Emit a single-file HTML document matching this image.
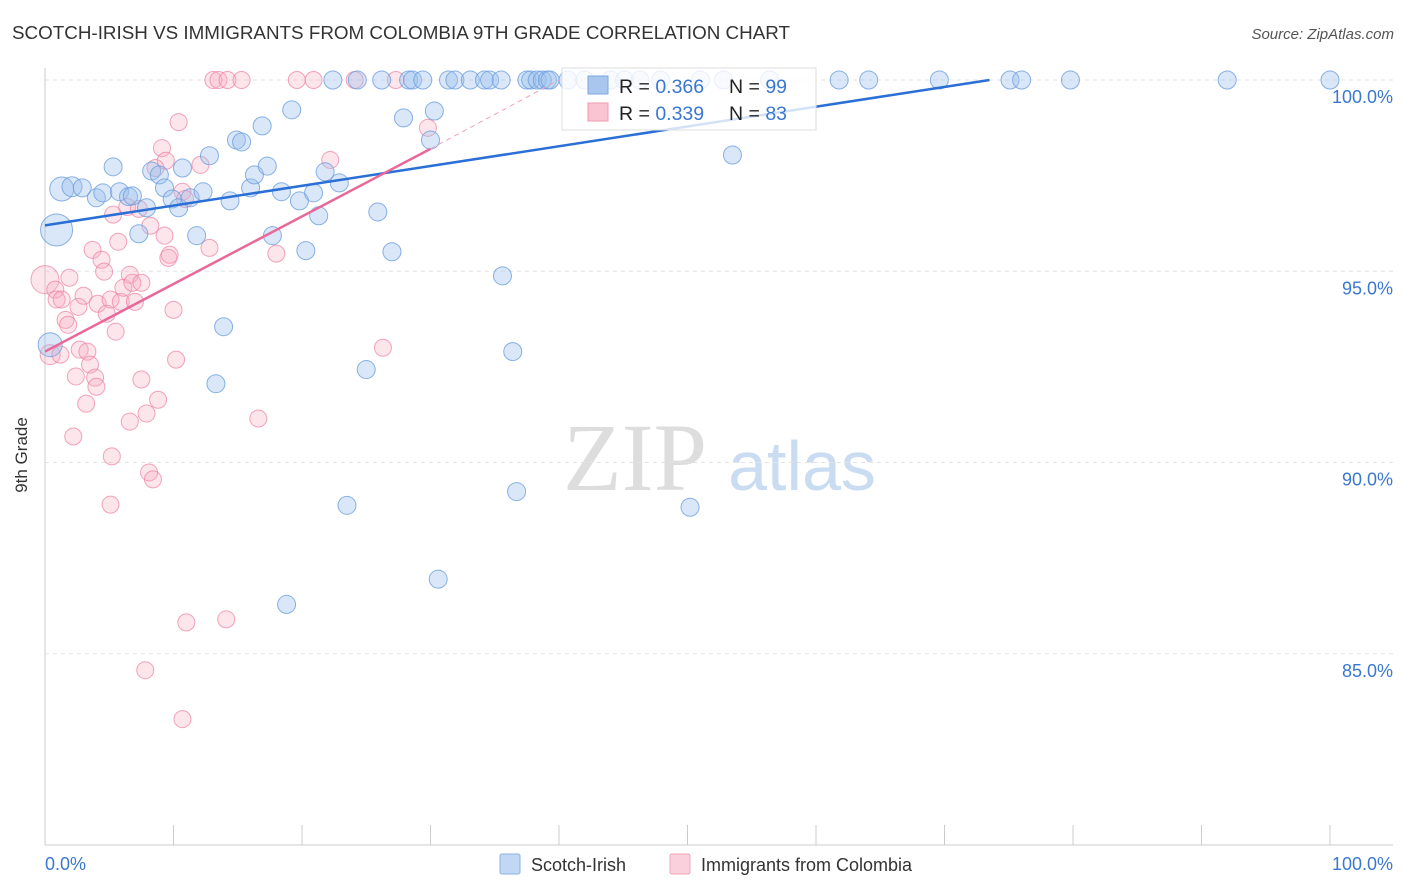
<!DOCTYPE html>
<html><head><meta charset="utf-8"><style>
body{margin:0;background:#fff;font-family:"Liberation Sans",sans-serif;}
svg{display:block}
</style></head><body>
<svg id="chart" width="1406" height="892" viewBox="0 0 1406 892">
<text x="12" y="39" font-size="18" fill="#333" textLength="778" lengthAdjust="spacingAndGlyphs">SCOTCH-IRISH VS IMMIGRANTS FROM COLOMBIA 9TH GRADE CORRELATION CHART</text>
<text x="1394" y="39" font-size="15" fill="#555" font-style="italic" text-anchor="end">Source: ZipAtlas.com</text>
<g>
<text x="635" y="490" font-size="96" fill="#ddd" font-family="Liberation Serif,serif" text-anchor="middle">ZIP</text>
<text x="802" y="490" font-size="70" fill="#c9dcf2" text-anchor="middle">atlas</text>
</g>
<g id="grid"></g>
<g id="axes"></g>
<g id="marks"></g>
<g>
<rect x="562" y="68" width="254" height="62" fill="#fff" fill-opacity="0.8" stroke="#ddd"/>
<rect x="588" y="76" width="20" height="18" fill="#a9c7ee" stroke="#7aa6de"/>
<rect x="588" y="103" width="20" height="18" fill="#fac4d3" stroke="#ef9ab3"/>
<text x="619" y="93" font-size="19.5" fill="#222">R = <tspan fill="#3a78d0">0.366</tspan></text>
<text x="729" y="93" font-size="19.5" fill="#222">N = <tspan fill="#3a78d0">99</tspan></text>
<text x="619" y="120" font-size="19.5" fill="#222">R = <tspan fill="#3a78d0">0.339</tspan></text>
<text x="729" y="120" font-size="19.5" fill="#222">N = <tspan fill="#3a78d0">83</tspan></text>
</g>
<g>
<rect x="500" y="854" width="20" height="20" fill="#c2d7f3" stroke="#8db2e3" rx="2"/>
<text x="531" y="871" font-size="18" fill="#333">Scotch-Irish</text>
<rect x="670" y="854" width="20" height="20" fill="#fbd0dd" stroke="#efa3ba" rx="2"/>
<text x="701" y="871" font-size="18" fill="#333">Immigrants from Colombia</text>
</g>
<text x="27" y="455" font-size="17" fill="#333" transform="rotate(-90 27 455)" text-anchor="middle">9th Grade</text>
</svg>
<script>
const blueX=[0.9,1.3,2.1,2.9,4.0,4.5,5.3,5.8,6.5,6.8,7.3,7.9,8.3,8.9,9.3,9.9,10.4,10.7,11.3,11.8,12.3,12.8,13.3,13.9,14.4,14.9,15.3,16.0,16.3,16.9,17.3,17.7,18.4,18.8,19.2,19.8,20.3,20.9,21.3,21.8,22.4,22.9,23.5,24.3,25.0,25.9,26.2,27.0,27.9,28.3,28.6,29.4,30.0,30.3,30.6,31.4,31.9,33.1,34.2,34.6,35.5,35.6,36.4,36.7,37.5,37.8,38.3,38.7,39.1,39.3,40.7,42.0,44.0,45.1,46.3,47.9,50.2,51.0,52.8,53.5,56.4,61.8,64.1,69.6,75.1,76.0,79.8,92.0,100,0.4];
const blueY=[96.08,97.15,97.21,97.18,96.92,97.05,97.73,97.08,96.95,96.97,95.98,96.66,97.62,97.52,97.18,96.89,96.66,97.70,96.92,95.93,97.08,98.02,92.06,93.55,96.84,98.43,98.38,97.18,97.52,98.80,97.75,95.93,97.08,86.29,99.22,96.84,95.54,97.05,96.45,97.60,100,97.31,88.88,100,92.43,96.55,100,95.51,99.01,100,100,100,98.43,99.19,86.95,100,100,100,100,100,100,94.88,92.90,89.24,100,100,100,100,100,100,100,100,100,100,100,100,88.83,100,100,98.04,100,100,100,100,100,100,100,100,100,93.08];
const blueSize=[16,12,10,9,9,9,9,9,9,9,9,9,9,9,9,9,9,9,9,9,9,9,9,9,9,9,9,9,9,9,9,9,9,9,9,9,9,9,9,9,9,9,9,9,9,9,9,9,9,9,9,9,9,9,9,9,9,9,9,9,9,9,9,9,9,9,9,9,9,9,9,9,9,9,9,9,9,9,9,9,9,9,9,9,9,9,9,9,9,12];
const pinkX=[0,0.4,0.8,0.9,1.3,1.6,1.8,1.9,2.2,2.4,2.6,2.7,3.0,3.2,3.3,3.5,3.7,3.9,4.0,4.1,4.4,4.6,4.8,5.1,5.2,5.1,5.3,5.5,5.7,5.9,6.1,6.4,6.6,6.6,6.8,7.0,7.3,7.5,7.5,7.8,7.9,8.1,8.2,8.4,8.6,8.8,9.1,9.3,9.4,9.6,9.7,10.0,10.2,10.4,10.7,10.7,11.0,12.1,12.8,13.1,13.5,14.1,14.2,15.3,16.6,18.0,19.6,20.9,22.2,24.1,26.3,27.3,29.8,10.9,1.2];
const pinkY=[94.78,92.82,94.52,94.26,94.26,93.73,93.60,94.83,90.68,92.25,94.07,92.95,94.36,91.54,92.90,92.56,95.56,92.22,91.98,94.15,95.30,94.99,93.89,94.26,90.16,88.90,96.48,93.42,95.77,94.20,94.57,96.68,91.07,94.91,94.70,94.20,96.63,94.70,92.17,84.57,91.28,89.74,96.19,89.56,97.70,91.64,98.22,95.93,97.89,95.35,95.43,93.99,92.69,98.90,83.29,97.08,85.82,97.78,95.61,100,100,85.90,100,100,91.15,95.46,100,100,97.91,100,93.00,100,98.75,96.89,92.82];
const pinkSize=[14,10];
const yTicks=[100,95,90,85];
const yTickLabels=["100.0%","95.0%","90.0%","85.0%"];
const blueTrend=[[0,96.2],[73.5,100]];
const pinkTrend=[[0,92.9],[30,98.2]];
const pinkTrendExt=[[30,98.2],[40,100]];

const NS="http://www.w3.org/2000/svg";
const xs=v=>45+v*12.85;
const ys=v=>845-(v-80)*38.25;
function mk(tag,attrs,parent){const e=document.createElementNS(NS,tag);for(const k in attrs)e.setAttribute(k,attrs[k]);document.getElementById(parent).appendChild(e);return e;}
yTicks.forEach((t,i)=>{
 const g=mk('line',{x1:45,x2:1393,y1:ys(t),y2:ys(t),stroke:'#e3e3e3','stroke-dasharray':'4 4'},'grid');
 
 
 const l=mk('text',{x:1393,y:ys(t)+23,'font-size':18,fill:'#3a78d0','text-anchor':'end'},'axes');
 l.textContent=yTickLabels[i];
 
 
});
const ax=mk('line',{x1:45,x2:45,y1:68,y2:845,stroke:'#ccc'},'axes');


const bx=mk('line',{x1:45,x2:1393,y1:845,y2:845,stroke:'#ccc'},'axes');


for(let i=0;i<=10;i++){
 const t=mk('line',{x1:xs(i*10),x2:xs(i*10),y1:825,y2:845,stroke:'#ccc'},'axes');
 
 
}
const x0=mk('text',{x:45,y:870,'font-size':18,fill:'#3a78d0'},'axes');x0.textContent='0.0%';


const x1=mk('text',{x:1393,y:870,'font-size':18,fill:'#3a78d0','text-anchor':'end'},'axes');x1.textContent='100.0%';



pinkX.forEach((v,i)=>{
 const c=mk('circle',{cx:xs(v),cy:ys(pinkY[i]),r:pinkSize[i]||8.5,fill:'#f7a8c0','fill-opacity':0.3,stroke:'#ec7fa0','stroke-opacity':0.7,'stroke-width':1},'marks');
 
 
});
blueX.forEach((v,i)=>{
 const c=mk('circle',{cx:xs(v),cy:ys(blueY[i]),r:blueSize[i]||9,fill:'#9cc0ec','fill-opacity':0.38,stroke:'#6d9fdd','stroke-opacity':0.8,'stroke-width':1},'marks');
 
 
});
const bt=mk('line',{x1:xs(blueTrend[0][0]),y1:ys(blueTrend[0][1]),x2:xs(blueTrend[1][0]),y2:ys(blueTrend[1][1]),stroke:'#2a6fd6','stroke-width':2.5},'marks');


const pt=mk('line',{x1:xs(pinkTrend[0][0]),y1:ys(pinkTrend[0][1]),x2:xs(pinkTrend[1][0]),y2:ys(pinkTrend[1][1]),stroke:'#e8689a','stroke-width':2.5},'marks');


const pe=mk('line',{x1:xs(pinkTrendExt[0][0]),y1:ys(pinkTrendExt[0][1]),x2:xs(pinkTrendExt[1][0]),y2:ys(pinkTrendExt[1][1]),stroke:'#f0a0bc','stroke-width':1,'stroke-dasharray':'5 4'},'marks');


</script>
</body></html>
